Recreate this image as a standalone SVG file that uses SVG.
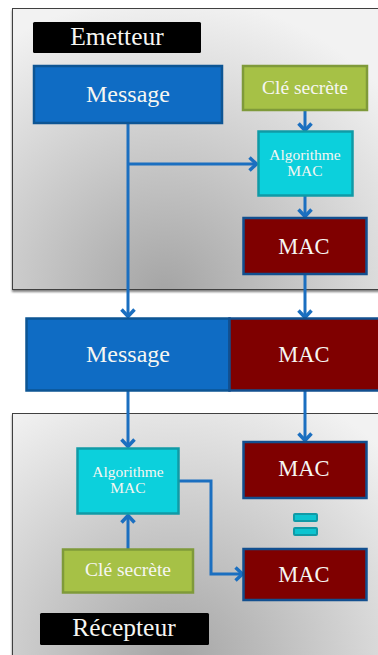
<svg xmlns="http://www.w3.org/2000/svg" width="378" height="655" viewBox="0 0 378 655">
<defs>
<radialGradient id="g1" gradientUnits="userSpaceOnUse" cx="165" cy="295" r="300"><stop offset="0" stop-color="#a4a4a4"/><stop offset="1" stop-color="#f2f2f2"/></radialGradient>
<radialGradient id="g2" gradientUnits="userSpaceOnUse" cx="175" cy="665" r="300"><stop offset="0" stop-color="#a4a4a4"/><stop offset="1" stop-color="#f2f2f2"/></radialGradient>
<filter id="sh" x="-5%" y="-5%" width="110%" height="110%"><feDropShadow dx="0" dy="2" stdDeviation="1.2" flood-color="#000" flood-opacity="0.5"/></filter>
<marker id="ah" markerUnits="userSpaceOnUse" markerWidth="14" markerHeight="16" refX="11.500" refY="8" orient="auto"><path d="M4 1.500L11 8L4 14.500" fill="none" stroke="#1b6fc0" stroke-width="3.500"/></marker>
</defs>
<style>
text{font-family:"Liberation Serif",serif;fill:#f6f6f2;text-anchor:middle}
.panel{stroke:#404040;stroke-width:1;filter:url(#sh)}
.lbl{fill:#000}
.msg{fill:#0f6cc4;stroke:#0d5594;stroke-width:2.500}
.key{fill:#a6c146;stroke:#7f9a3a;stroke-width:2.500}
.algo{fill:#0cd0dc;stroke:#109aa6;stroke-width:2.500}
.mac{fill:#7f0000;stroke:#124f8f;stroke-width:2.500}
.eq{fill:#0cc4d0;stroke:#109aa6;stroke-width:2}
.c{fill:none;stroke:#1b6fc0;stroke-width:3;marker-end:url(#ah)}
.big{font-size:24px}.head{font-size:25.500px}.macs{font-size:22.500px}.mid{font-size:19.500px}.sm{font-size:15.500px}
</style>
<g id="panel-emetteur"><rect class="panel" x="12.500" y="8.500" width="372" height="281" fill="url(#g1)"/></g>
<g id="panel-recepteur"><rect class="panel" x="12.500" y="413.500" width="372" height="250" fill="url(#g2)"/></g>
<g id="connectors">
<path class="c" d="M128 123V317"/>
<path class="c" d="M128 164H257"/>
<path class="c" d="M305 110V131"/>
<path class="c" d="M305 196V217"/>
<path class="c" d="M305 274V318"/>
<path class="c" d="M128 391V447"/>
<path class="c" d="M305 391V441"/>
<path class="c" d="M128 549V515"/>
<path class="c" d="M179 481H211V574H243"/>
</g>
<g id="label-emetteur"><rect class="lbl" x="33" y="22" width="168" height="31" rx="1.500"/><text class="head" x="117" y="45">Emetteur</text></g>
<g id="message-top"><rect class="msg" x="34" y="66" width="188" height="57"/><text class="big" x="128" y="102">Message</text></g>
<g id="cle-top"><rect class="key" x="243" y="66" width="124" height="44"/><text class="mid" x="305" y="94">Clé secrète</text></g>
<g id="algo-top"><rect class="algo" x="258.500" y="131.500" width="94" height="64"/><text class="sm" x="305" y="160">Algorithme</text><text class="sm" x="305" y="176">MAC</text></g>
<g id="mac-top"><rect class="mac" x="243.500" y="218" width="123" height="56"/><text class="macs" x="304" y="254">MAC</text></g>
<g id="message-mid"><rect class="msg" x="26.500" y="318.500" width="203" height="72"/><text class="big" x="128" y="362">Message</text></g>
<g id="mac-mid"><rect class="mac" x="229.500" y="318.500" width="160" height="72"/><text class="macs" x="304" y="362">MAC</text></g>
<g id="algo-bottom"><rect class="algo" x="77.500" y="448.500" width="101" height="65"/><text class="sm" x="128" y="477">Algorithme</text><text class="sm" x="128" y="493">MAC</text></g>
<g id="mac-bottom-1"><rect class="mac" x="243.500" y="442" width="123" height="56"/><text class="macs" x="304" y="476">MAC</text></g>
<g id="equals"><rect class="eq" x="294" y="514" width="23" height="7" rx="1"/><rect class="eq" x="294" y="528" width="23" height="7" rx="1"/></g>
<g id="cle-bottom"><rect class="key" x="63" y="549.500" width="130" height="43"/><text class="mid" x="128" y="576">Clé secrète</text></g>
<g id="mac-bottom-2"><rect class="mac" x="243.500" y="549" width="123" height="51"/><text class="macs" x="304" y="582">MAC</text></g>
<g id="label-recepteur"><rect class="lbl" x="40" y="613" width="169" height="32" rx="1.500"/><text class="head" x="124" y="636">Récepteur</text></g>
</svg>
